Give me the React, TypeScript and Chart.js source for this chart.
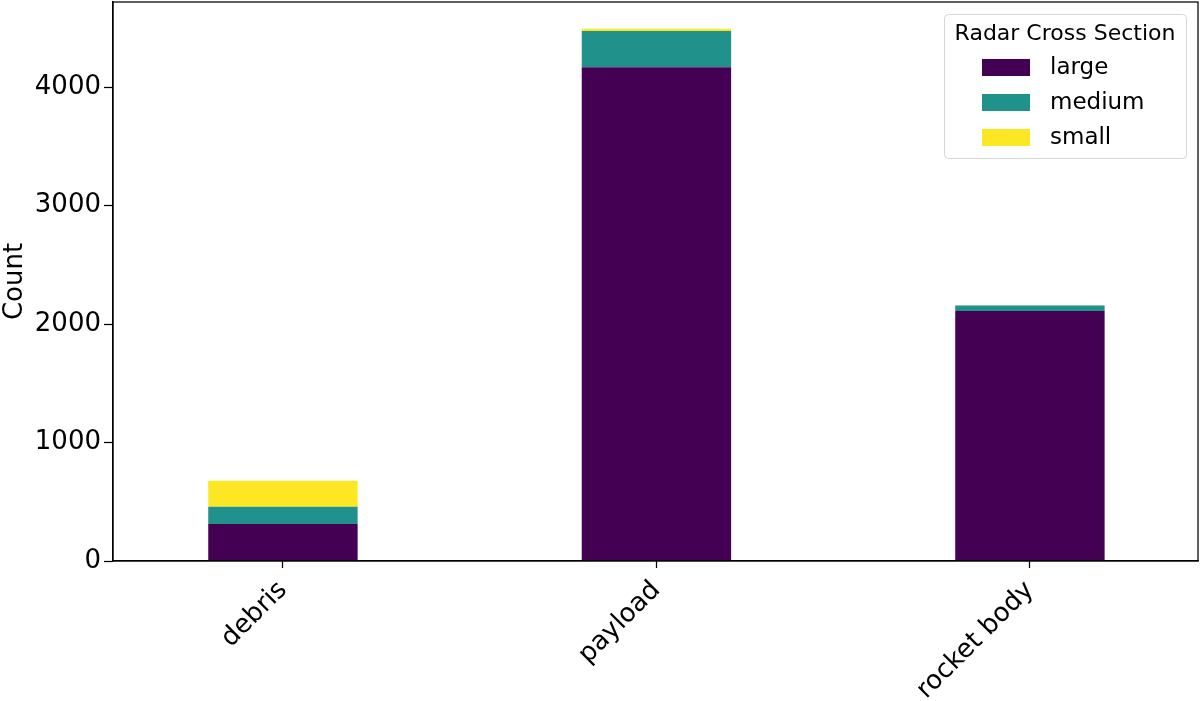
import React, { useEffect, useRef } from "react";
import { Chart, registerables } from "chart.js";

Chart.register(...registerables);

const categories = ["debris", "payload", "rocket body"];
const sizeLabels = ["large", "medium", "small"];
const largeValues = [312, 4170, 2110];
const mediumValues = [146, 305, 48];
const smallValues = [220, 20, 2];
const yTicks = [0, 1000, 2000, 3000, 4000];
const colors = ["#440154", "#21918c", "#fde725"];
const legendTitle = "Radar Cross Section";
const yTitle = "Count";

const FONT = "'DejaVu Sans', sans-serif";

const framePlugin = {
  id: "frame",
  afterDatasetsDraw(chart: any) {
    const { ctx, chartArea } = chart;
    ctx.save();
    ctx.strokeStyle = "#000";
    ctx.lineWidth = 1.25;
    ctx.strokeRect(chartArea.left, chartArea.top, chartArea.right - chartArea.left, chartArea.bottom - chartArea.top);
    ctx.restore();
  },
};

const legendPlugin = {
  id: "mplLegend",
  afterDraw(chart: any) {
    const { ctx, chartArea } = chart;
    const w = 242;
    const h = 144;
    const x = chartArea.right - 12 - w;
    const y = chartArea.top + 12;
    ctx.save();
    ctx.globalAlpha = 0.8;
    ctx.fillStyle = "#fff";
    ctx.strokeStyle = "#cccccc";
    ctx.lineWidth = 1;
    ctx.beginPath();
    (ctx as any).roundRect(x + 0.5, y + 0.5, w, h, 4);
    ctx.fill();
    ctx.stroke();
    ctx.globalAlpha = 1;
    ctx.fillStyle = "#000";
    ctx.font = `22px ${FONT}`;
    ctx.textAlign = "center";
    ctx.textBaseline = "middle";
    ctx.fillText(legendTitle, x + w / 2, y + 20);
    ctx.textAlign = "left";
    ctx.font = `23px ${FONT}`;
    chart.data.datasets.forEach((ds: any, i: number) => {
      const cy = y + 53 + i * 35;
      ctx.fillStyle = ds.backgroundColor;
      ctx.fillRect(x + 38, cy - 8, 48, 17);
      ctx.fillStyle = "#000";
      ctx.fillText(ds.label, x + 106, cy + 1);
    });
    ctx.restore();
  },
};

export default function App() {
  const ref = useRef<HTMLCanvasElement>(null);
  useEffect(() => {
    document.body.style.margin = "0";
    const series = [largeValues, mediumValues, smallValues];
    const chart = new Chart(ref.current as HTMLCanvasElement, {
      type: "bar",
      data: {
        datasets: series.map((vals, i) => ({
          label: sizeLabels[i],
          data: vals.map((v, j) => ({ x: j, y: v })),
          backgroundColor: colors[i],
          borderWidth: 0,
          categoryPercentage: 1,
          barPercentage: 0.4,
        })),
      },
      options: {
        animation: false,
        responsive: false,
        layout: { padding: { top: 2, right: 2, left: 0, bottom: 0 } },
        plugins: { legend: { display: false }, tooltip: { enabled: false } },
        scales: {
          x: {
            type: "linear",
            stacked: true,
            offset: false,
            min: -0.455,
            max: 2.45,
            afterBuildTicks(scale: any) {
              scale.ticks = categories.map((_, i) => ({ value: i }));
            },
            afterFit(scale: any) {
              scale.height = 140;
              scale.paddingLeft = 0;
              scale.paddingRight = 0;
            },
            ticks: {
              autoSkip: false,
              minRotation: 45,
              maxRotation: 45,
              padding: 7,
              color: "#000",
              font: { family: FONT, size: 26 },
              callback: (v: any) => categories[v] ?? "",
            },
            grid: { display: true, offset: false, drawOnChartArea: false, tickLength: 7, tickColor: "#000", tickWidth: 1.25 },
            border: { display: true, color: "#000", width: 1.25 },
          },
          y: {
            stacked: true,
            min: 0,
            max: 4720,
            afterBuildTicks(scale: any) {
              scale.ticks = yTicks.map((v) => ({ value: v }));
            },
            afterFit(scale: any) {
              scale.width = 113;
              scale.paddingTop = 0;
              scale.paddingBottom = 0;
            },
            ticks: {
              padding: 3,
              color: "#000",
              font: { family: FONT, size: 26 },
              callback: (v: any) => String(v),
            },
            title: {
              display: true,
              text: yTitle,
              color: "#000",
              font: { family: FONT, size: 26 },
              padding: { top: 0, bottom: 0 },
            },
            grid: { display: true, drawOnChartArea: false, tickLength: 9, tickColor: "#000", tickWidth: 1.25 },
            border: { display: true, color: "#000", width: 1.25 },
          },
        },
      },
      plugins: [framePlugin, legendPlugin],
    } as any);
    return () => chart.destroy();
  }, []);
  return <canvas ref={ref} width={1200} height={701} style={{ display: "block" }} />;
}
